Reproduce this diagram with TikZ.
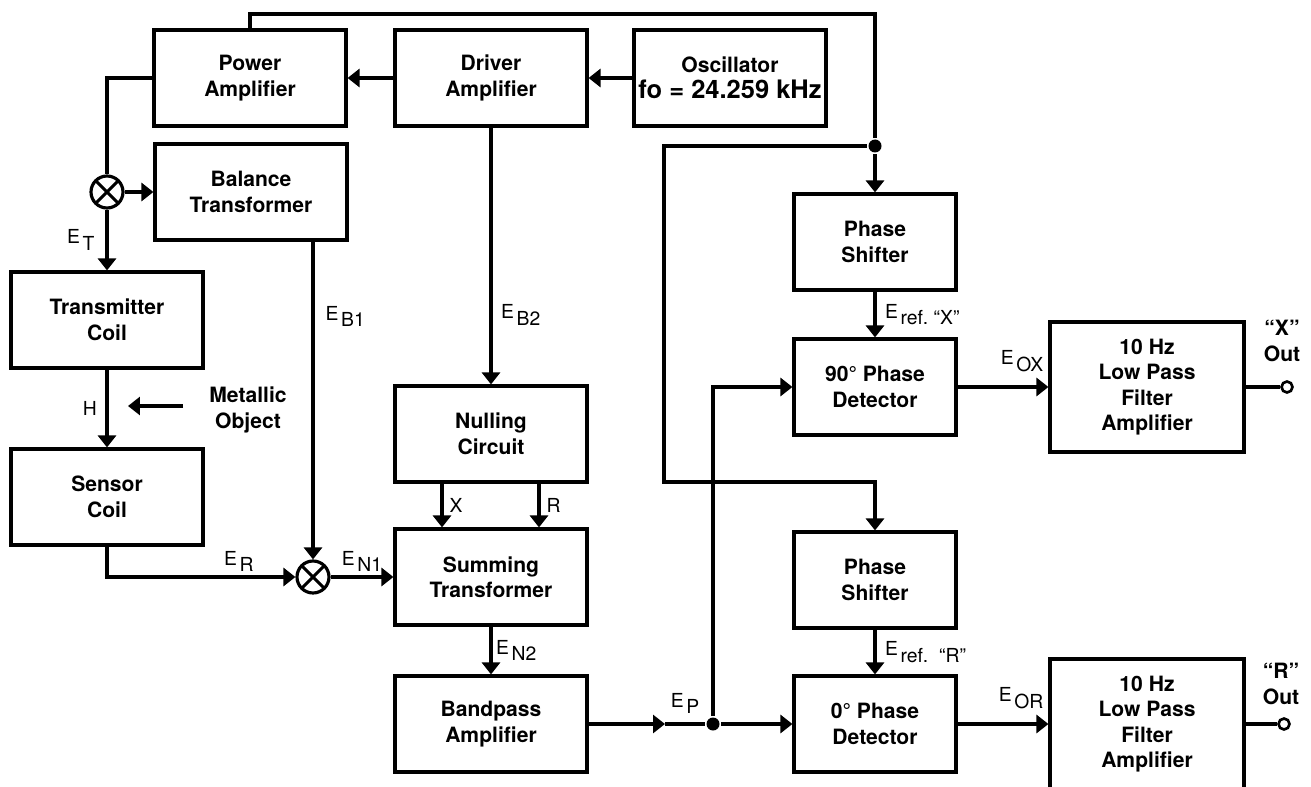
\documentclass[tikz,border=0pt]{standalone}
\usepackage{fontspec}
\setmainfont{TeX Gyre Heros}
\usetikzlibrary{arrows.meta,positioning}
\tikzset{b/.style={rectangle,draw,minimum width=3.84cm,minimum height=1.92cm,align=center,font=\bfseries\fontsize{12}{14.5}\selectfont}}
\tikzset{s/.style={b,minimum width=3.24cm}}
\tikzset{f/.style={b,minimum width=3.88cm,minimum height=2.6cm}}
\tikzset{t/.style={align=center,font=\bfseries\fontsize{12}{14.5}\selectfont}}
\tikzset{l/.style={font=\fontsize{11}{12}\selectfont,inner sep=2pt}}
\tikzset{a/.style={-{Triangle[length=2.4mm,width=3.6mm]}}}
\tikzset{mix/.style={circle,draw,minimum size=6.4mm,inner sep=0pt,
  path picture={\draw (path picture bounding box.north west) -- (path picture bounding box.south east)
                      (path picture bounding box.south west) -- (path picture bounding box.north east);}}}
\tikzset{dot/.style={circle,fill,minimum size=2.6mm,inner sep=0pt}}
\tikzset{port/.style={circle,draw,fill=white,line width=1.5pt,minimum size=2.2mm,inner sep=0pt}}
\newcommand{\sig}[1]{E\kern1.5pt\raisebox{-0.65ex}{#1}}

\begin{document}
\begin{tikzpicture}[x=0.02cm,y=-0.02cm,line width=1.8pt]
  \useasboundingbox (0,0) rectangle (1311,787);
  % top row
  \node[b] (PA) at (250,78) {Power\\Amplifier};
  \node[b] (DA) at (491,78) {Driver\\Amplifier};
  \node[b,inner xsep=0.5pt] (OSC) at (730,78) {Oscillator\\\fontsize{14.5}{17}\selectfont fo = 24.259 kHz};
  % left column
  \node[mix] (M1) at (107,192) {};
  \node[b] (BT) at (251,192) {Balance\\Transformer};
  \node[b] (TC) at (107,320) {Transmitter\\Coil};
  \node[b] (SC) at (107,497) {Sensor\\Coil};
  \node[t] (MO) at (248,410) {Metallic\\Object};
  \coordinate (mo1) at (183,406);
  \coordinate (mo2) at (128,406);
  \node[mix] (M2) at (313,577) {};
  % middle column
  \node[b] (NC) at (491,434) {Nulling\\Circuit};
  \node[b] (ST) at (491,577) {Summing\\Transformer};
  \node[b] (BP) at (491,724) {Bandpass\\Amplifier};
  % detectors
  \node[s] (PS1) at (875,242) {Phase\\Shifter};
  \node[s] (PD90) at (875,387) {90° Phase\\Detector};
  \node[s] (PS2) at (875,580) {Phase\\Shifter};
  \node[s] (PD0) at (875,724) {0° Phase\\Detector};
  \node[f] (F1) at (1147,387) {10 Hz\\Low Pass\\Filter\\Amplifier};
  \node[f] (F2) at (1147,724) {10 Hz\\Low Pass\\Filter\\Amplifier};
  \node[port] (O1) at (1287,387) {};
  \node[port] (O2) at (1284,724) {};
  \node[t] (XO) at (1282,341) {``X''\\Out};
  \node[t] (RO) at (1281,684) {``R''\\Out};
  \node[dot] (J1) at (875,146) {};
  \node[dot] (J2) at (713,724) {};
  \coordinate (t2) at (875,14);
  \coordinate (c1) at (664,482);
  \coordinate (ep) at (665,724);

  \draw[a] (OSC) -- (DA);
  \draw[a] (DA) -- (PA);
  \draw (PA.west) -| (M1);
  \draw[a] (M1) -- (BT);
  \draw[a] (M1) -- node[l,left,xshift=-1.5mm] {\sig{T}} (TC);
  \draw[a] (TC) -- node[l,left,xshift=-1mm] {H} (SC);
  \draw[a] (mo1) -- (mo2);
  \draw[a] (SC) |- node[l,above,pos=0.85] {\sig{R}} (M2);
  \draw[a] (M2 |- BT.south) -- node[l,right,pos=0.235,xshift=1.5mm] {\sig{B1}} (M2);
  \draw[a] (M2) -- node[l,above] {\sig{N1}} (ST);
  \draw[a] (DA) -- node[l,right,pos=0.73,xshift=1mm] {\sig{B2}} (NC);
  \draw[a] ([xshift=-0.98cm]NC.south) -- node[l,right,xshift=0.5mm] {X} ([xshift=-0.98cm]ST.north);
  \draw[a] ([xshift=0.96cm]NC.south) -- node[l,right,xshift=0.5mm] {R} ([xshift=0.96cm]ST.north);
  \draw[a] (ST) -- node[l,right] {\sig{N2}} (BP);
  \draw[a] (BP) -- (ep);
  \draw (ep) -- node[l,above,yshift=1mm] {\sig{P}} (J2);
  \draw[a] (J2) -- (PD0);
  \draw[a] (J2) |- (PD90);
  \draw (PA.north) |- (t2) -- (J1);
  \draw[a] (J1) -- (PS1);
  \draw[a] (J1) -| (c1) -| (PS2);
  \draw[a] (PS1) -- node[l,right,xshift=1mm] {\sig{ref.\ ``X''}} (PD90);
  \draw[a] (PS2) -- node[l,right,xshift=1mm] {\sig{ref.\ \ ``R''}} (PD0);
  \draw[a] (PD90) -- node[l,above left,pos=1,yshift=2mm] {\sig{OX}} (F1);
  \draw[a] (PD0) -- node[l,above left,pos=1,yshift=2mm] {\sig{OR}} (F2);
  \draw (F1) -- (O1);
  \draw (F2) -- (O2);
\end{tikzpicture}
\end{document}
